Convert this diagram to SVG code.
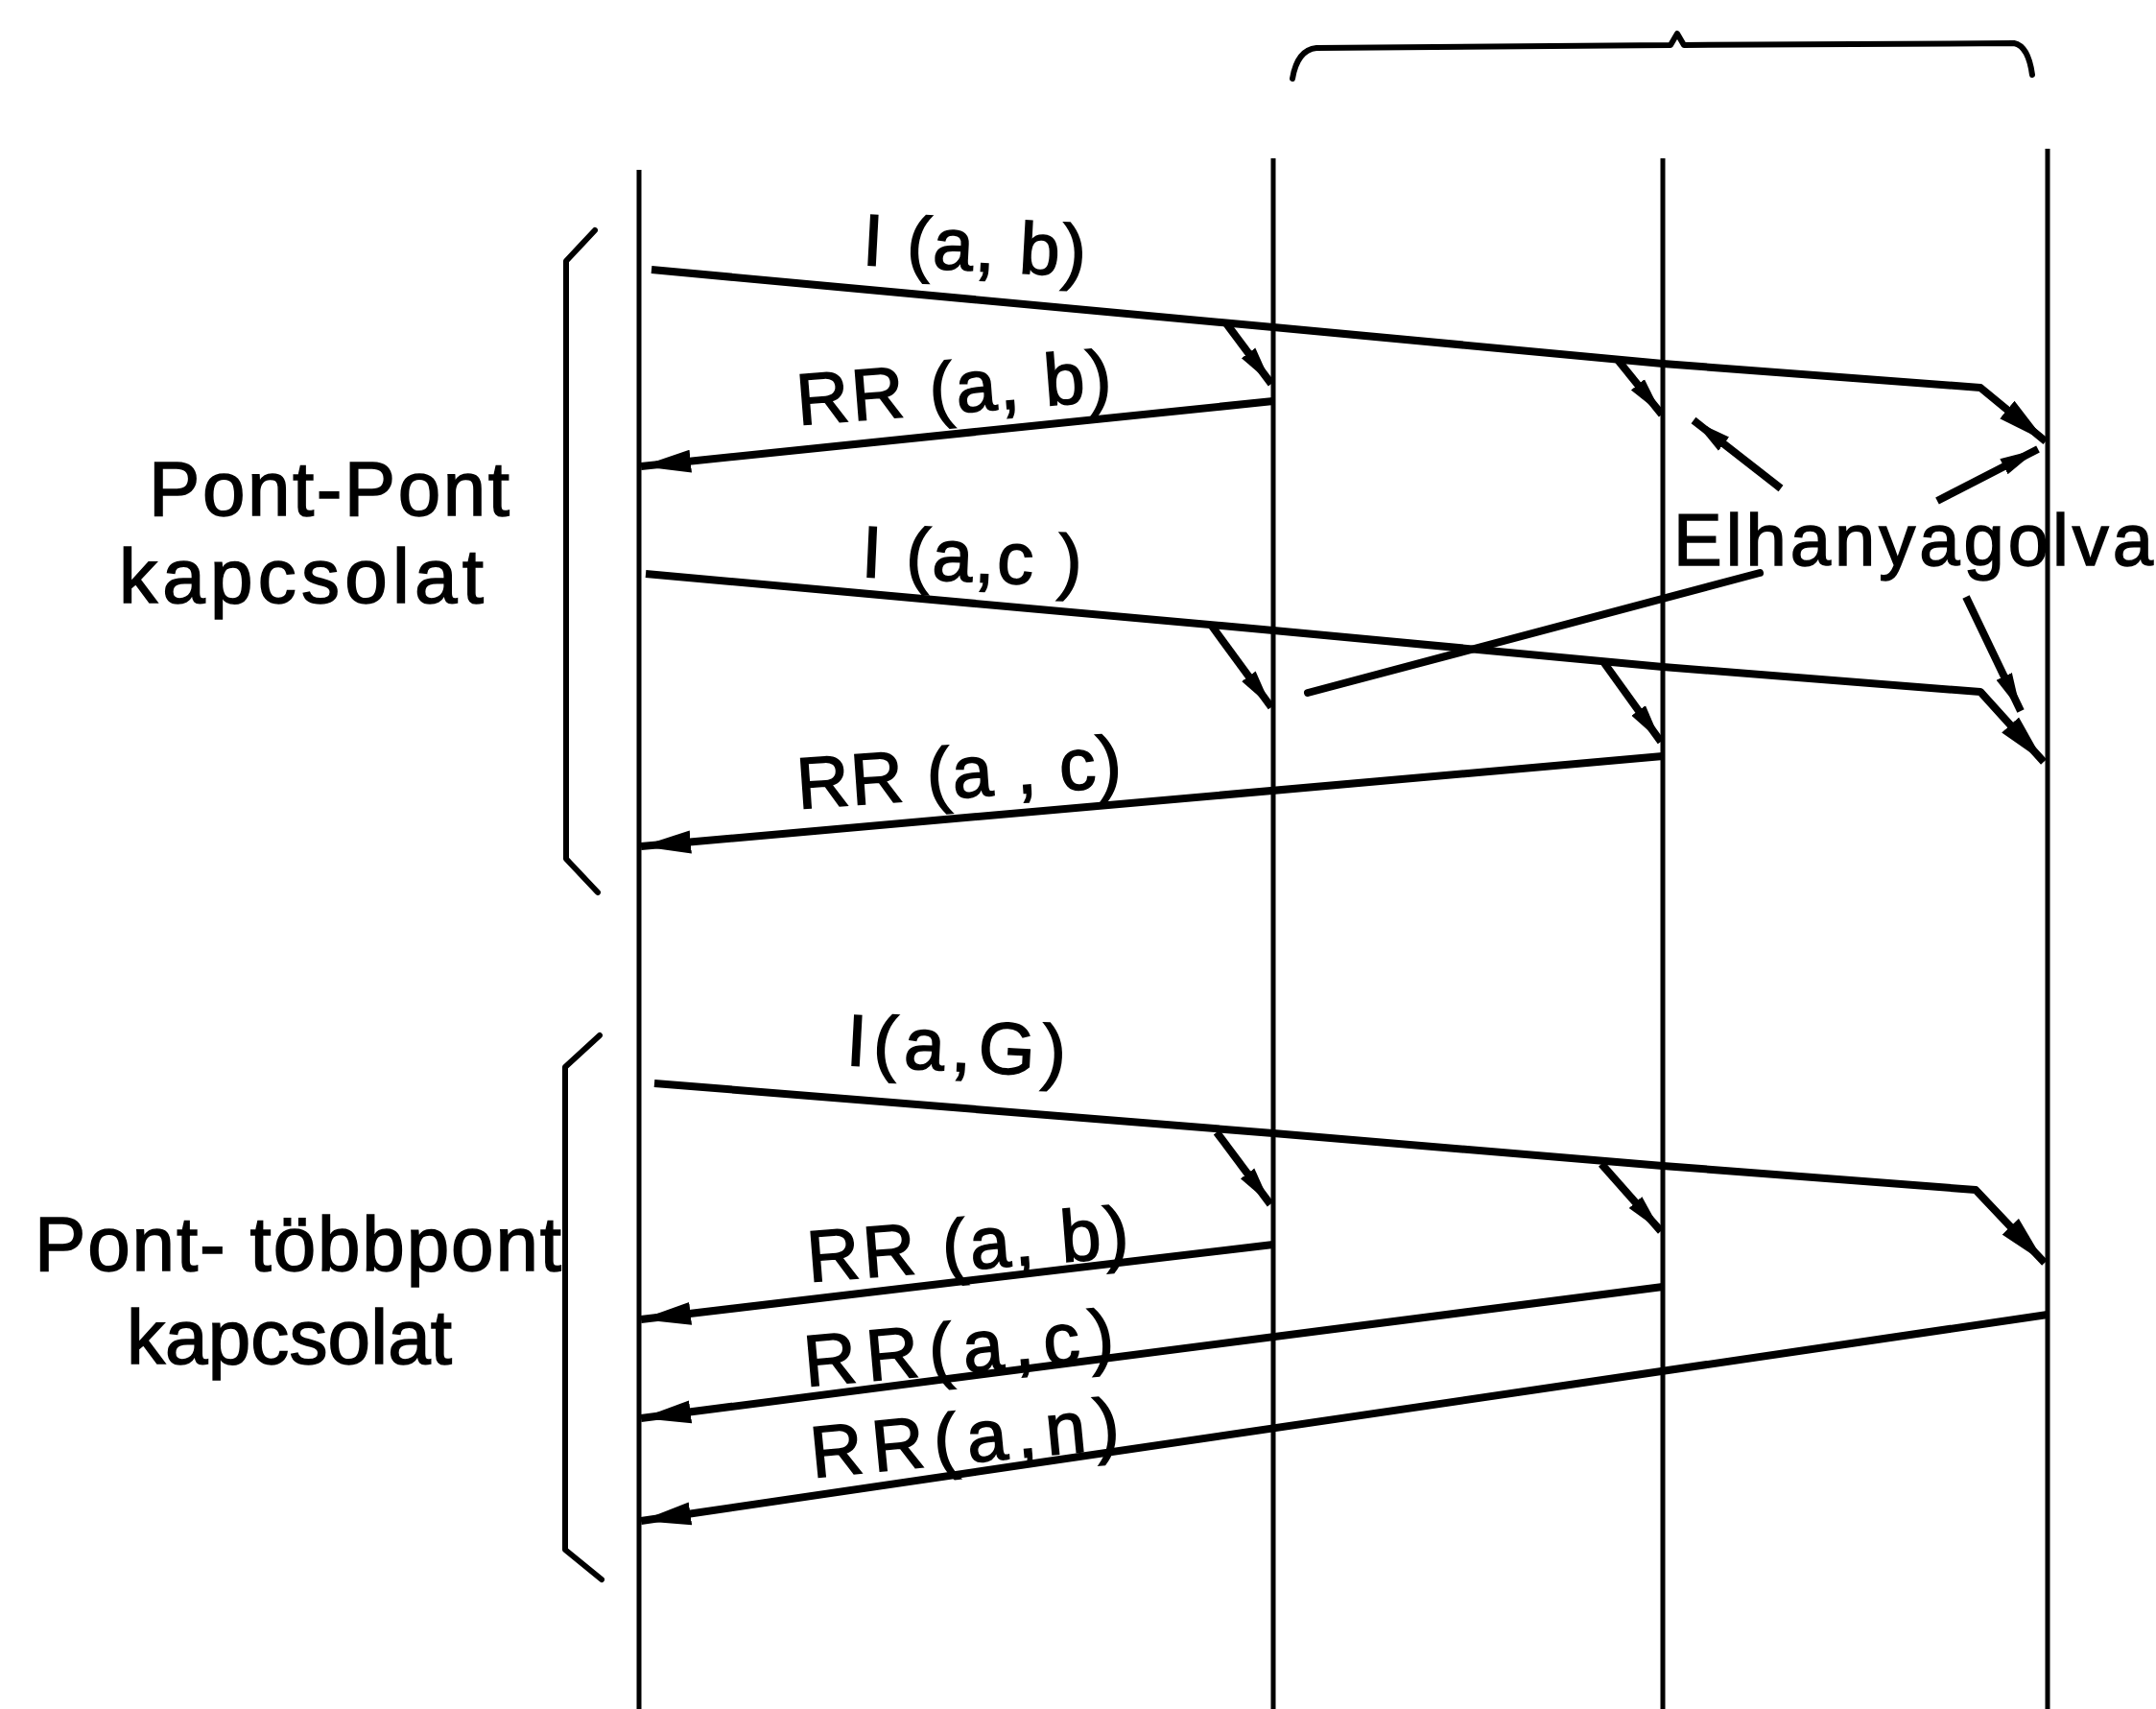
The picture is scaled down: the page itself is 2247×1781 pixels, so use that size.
<svg xmlns="http://www.w3.org/2000/svg" width="2247" height="1781" viewBox="0 0 2247 1781">
<style>
.life{stroke:#000;stroke-width:5;fill:none}
.msg{stroke:#000;stroke-width:8;fill:none;stroke-linejoin:round}
.br{stroke:#000;stroke-width:6;fill:none;stroke-linejoin:round;stroke-linecap:round}
.lbl{font-family:"Liberation Sans",Arial,sans-serif;font-size:76px;fill:#000;stroke:#000;stroke-width:1.5}
.side{font-family:"Liberation Sans",Arial,sans-serif;font-size:80px;fill:#000;stroke:#000;stroke-width:1.5}
</style>
<defs>
<marker id="ah" markerUnits="userSpaceOnUse" markerWidth="54" markerHeight="28" refX="52" refY="14" orient="auto">
<path d="M0,2 L52,14 L0,26 Z" fill="#000"/>
</marker>
<marker id="as" markerUnits="userSpaceOnUse" markerWidth="42" markerHeight="24" refX="40" refY="12" orient="auto">
<path d="M0,3 L40,12 L0,21 Z" fill="#000"/>
</marker>
</defs>
<rect width="2247" height="1781" fill="#fff"/>
<g id="lifelines">
<line id="life-a" class="life" x1="666" y1="177" x2="666" y2="1781"/>
<line id="life-b" class="life" x1="1327" y1="165" x2="1327" y2="1781"/>
<line id="life-c" class="life" x1="1733" y1="165" x2="1733" y2="1781"/>
<line id="life-d" class="life" x1="2134" y1="155" x2="2134" y2="1781"/>
</g>
<g id="braces">
<path id="brace-top" class="br" d="M1347,82 Q1352,52 1372,50 L1741,47 L1748,35 L1755,47 L2099,45 Q2114,48 2118,78"/>
<path id="brace-pp" class="br" d="M620,240 L590,272 L590,895 L623,930"/>
<path id="brace-ptp" class="br" d="M625,1079 L589,1112 L589,1615 L627,1646"/>
</g>
<g id="connectors">
<path class="msg" d="M679,281 L1327,341 L1733,379 L2064,404 L2132,460" marker-end="url(#ah)"/>
<path class="msg" d="M1278,337 L1325,400" marker-end="url(#as)"/>
<path class="msg" d="M1686,375 L1732,432" marker-end="url(#as)"/>
<path class="msg" d="M1327,418 L668,486" marker-end="url(#ah)"/>
<path class="msg" d="M673,598 L1327,657 L1733,695 L2064,721 L2130,794" marker-end="url(#ah)"/>
<path class="msg" d="M1262,651 L1325,737" marker-end="url(#as)"/>
<path class="msg" d="M1672,691 L1731,773" marker-end="url(#as)"/>
<path class="msg" d="M1733,788 L668,882" marker-end="url(#ah)"/>
<path class="msg" d="M1856,509 L1765,438" marker-end="url(#as)"/>
<path class="msg" d="M2019,522 L2124,468" marker-end="url(#as)"/>
<path class="msg" d="M2049,622 L2106,741" marker-end="url(#as)"/>
<path class="msg" d="M1834,597 L1363,722" stroke-linecap="round"/>
<path class="msg" d="M682,1129 L1327,1181 L1733,1215 L2059,1240 L2131,1316" marker-end="url(#ah)"/>
<path class="msg" d="M1268,1180 L1324,1255" marker-end="url(#as)"/>
<path class="msg" d="M1669,1213 L1731,1283" marker-end="url(#as)"/>
<path class="msg" d="M1327,1297 L668,1375" marker-end="url(#ah)"/>
<path class="msg" d="M1733,1341 L668,1478" marker-end="url(#ah)"/>
<path class="msg" d="M2134,1370 L668,1585" marker-end="url(#ah)"/>
</g>
<g id="labels">
<text id="t-iab" class="lbl" x="898" y="276" textLength="233" lengthAdjust="spacing" transform="rotate(3 898 276)">I (a, b)</text>
<text id="t-rrab" class="lbl" x="832" y="443" textLength="329" lengthAdjust="spacing" transform="rotate(-4.5 832 443)">RR (a, b)</text>
<text id="t-iac" class="lbl" x="897" y="601" textLength="230" lengthAdjust="spacing" transform="rotate(2.5 897 601)">I (a,c )</text>
<text id="t-rrac" class="lbl" x="832" y="843" textLength="339" lengthAdjust="spacing" transform="rotate(-4 832 843)">RR (a , c)</text>
<text id="t-iag" class="lbl" x="881" y="1110" textLength="229" lengthAdjust="spacing" transform="rotate(3 881 1110)">I(a,G)</text>
<text id="t-rrab2" class="lbl" x="843" y="1336" textLength="336" lengthAdjust="spacing" transform="rotate(-4.5 843 1336)">RR (a, b)</text>
<text id="t-rrac2" class="lbl" x="840" y="1445" textLength="324" lengthAdjust="spacing" transform="rotate(-5 840 1445)">RR(a,c)</text>
<text id="t-rran" class="lbl" x="847" y="1540" textLength="323" lengthAdjust="spacing" transform="rotate(-5.5 847 1540)">RR(a,n)</text>
<text id="t-elh" class="lbl" x="1744" y="589" textLength="500" lengthAdjust="spacing">Elhanyagolva</text>
</g>
<g id="side-labels">
<text id="t-pp" class="side" x="155" y="537" textLength="376" lengthAdjust="spacing">Pont-Pont</text>
<text id="t-k1" class="side" x="124" y="628" textLength="380" lengthAdjust="spacing">kapcsolat</text>
<text id="t-ptp" class="side" x="36" y="1324" textLength="549" lengthAdjust="spacing">Pont- többpont</text>
<text id="t-k2" class="side" x="132" y="1421" textLength="339" lengthAdjust="spacing" stroke-width="3.5">kapcsolat</text>
</g>
</svg>
